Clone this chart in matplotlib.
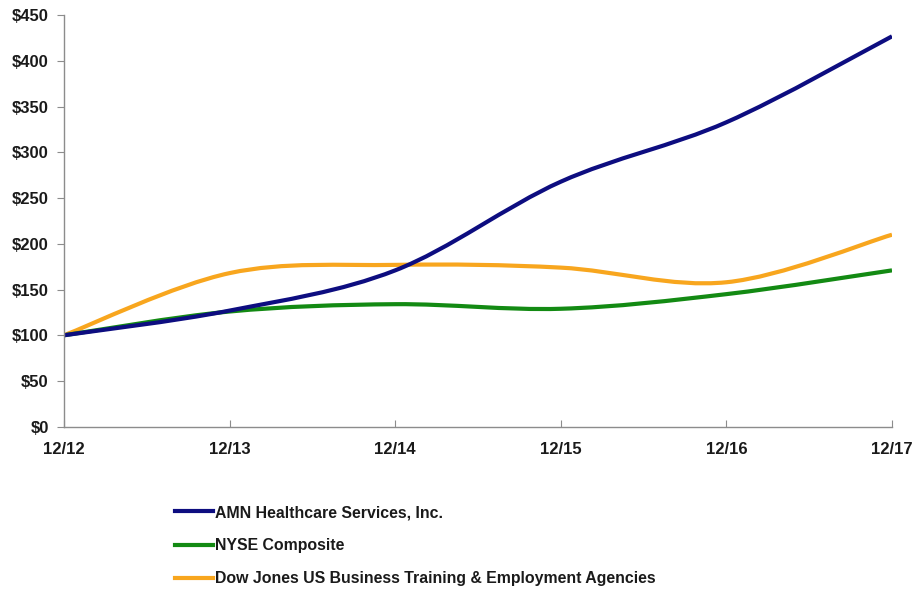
import matplotlib
matplotlib.use("Agg")
import matplotlib.pyplot as plt
from matplotlib.path import Path
from matplotlib.patches import PathPatch
from matplotlib.lines import Line2D
from matplotlib.ticker import FuncFormatter

years = ["12/12", "12/13", "12/14", "12/15", "12/16", "12/17"]
amn = [100, 127, 171, 268, 333, 427]
nyse = [100, 126, 134, 129, 145, 171]
dj = [100, 168, 177, 174, 158, 210]
names = ["AMN Healthcare Services, Inc.", "NYSE Composite",
         "Dow Jones US Business Training & Employment Agencies"]
colors = ["#0d0d80", "#138a13", "#f8a61e"]
yticks = list(range(0, 451, 50))

plt.rcParams['font.family'] = ['Liberation Sans', 'DejaVu Sans']

fig = plt.figure(figsize=(9.15, 5.94), dpi=100)
ax = fig.add_axes([64/915, 1-426.7/594, (892-64)/915, (426.7-15.3)/594])


def smooth_path(xs, ys):
    pts = list(zip(xs, ys))
    verts = [pts[0]]
    codes = [Path.MOVETO]
    n = len(pts)
    for i in range(n - 1):
        p0 = pts[i - 1] if i > 0 else pts[i]
        p1 = pts[i]
        p2 = pts[i + 1]
        p3 = pts[i + 2] if i + 2 < n else pts[i + 1]
        c1 = (p1[0] + (p2[0] - p0[0]) / 6, p1[1] + (p2[1] - p0[1]) / 6)
        c2 = (p2[0] - (p3[0] - p1[0]) / 6, p2[1] - (p3[1] - p1[1]) / 6)
        verts += [c1, c2, p2]
        codes += [Path.CURVE4] * 3
    return Path(verts, codes)


xs = list(range(len(years)))
series = [amn, nyse, dj]
# draw order: orange, green, blue on top
for idx in [2, 1, 0]:
    patch = PathPatch(smooth_path(xs, series[idx]), facecolor="none",
                      edgecolor=colors[idx], lw=3.0, capstyle="butt",
                      joinstyle="round")
    ax.add_patch(patch)

ax.set_xlim(0, len(years) - 1)
ax.set_ylim(0, 450)
ax.set_xticks(xs)
ax.set_xticklabels(years)
ax.set_yticks(yticks)
ax.yaxis.set_major_formatter(FuncFormatter(lambda v, p: f"${int(v)}"))

for s in ["top", "right"]:
    ax.spines[s].set_visible(False)
for s in ["left", "bottom"]:
    ax.spines[s].set_color("#8c8c8c")
    ax.spines[s].set_linewidth(1.0)

ax.tick_params(axis="y", direction="out", length=5, color="#8c8c8c",
               pad=6, labelsize=12)
ax.tick_params(axis="x", direction="in", length=5, color="#8c8c8c",
               pad=11, labelsize=12)
for lab in ax.get_xticklabels() + ax.get_yticklabels():
    lab.set_fontweight("bold")
    lab.set_color("#1a1a1a")

handles = [Line2D([], [], color=c, lw=3) for c in colors]
leg = fig.legend(handles, names, loc="upper left",
                 bbox_to_anchor=(175/915, 1-505/594), frameon=False,
                 handlelength=2.4, handletextpad=0.1, labelspacing=1.15,
                 borderaxespad=0, borderpad=0,
                 prop={"size": 11.4, "weight": "bold"})
for t in leg.get_texts():
    t.set_color("#1a1a1a")

fig.savefig("out.png", dpi=100)
